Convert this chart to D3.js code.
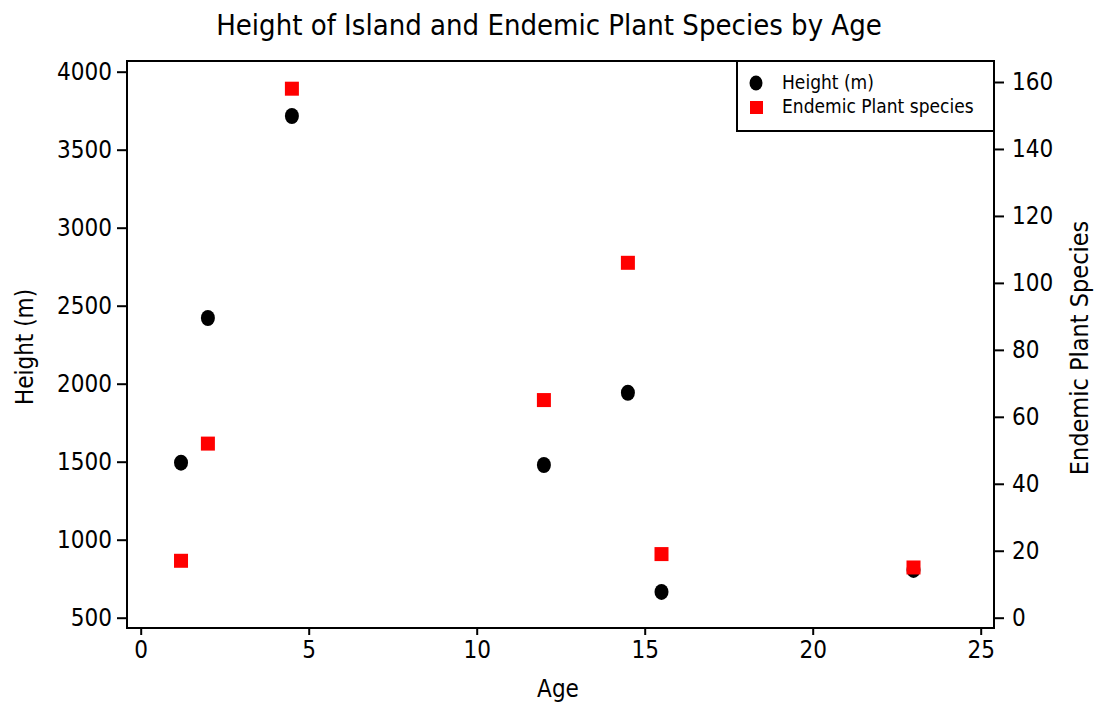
<!DOCTYPE html>
<html lang="en">
<head>
    <meta charset="UTF-8">
    <title>Height of Island and Endemic Plant Species by Age</title>
    <style>
        body { margin: 0; background: white; }
        text { font-family: "DejaVu Sans Condensed", "DejaVu Sans", sans-serif; fill: #000; }
    </style>
</head>
<body>
    <script src="https://d3js.org/d3.v7.min.js"></script>
    <script>
        // data
        let ages = [1.2, 2.0, 4.5, 12.0, 14.5, 15.5, 23.0];
        let heights = [1494, 2421, 3716, 1479, 1942, 665, 806];
        let species = [17, 52, 158, 65, 106, 19, 15];
        let xTicks = [0, 5, 10, 15, 20, 25];
        let leftTicks = [500, 1000, 1500, 2000, 2500, 3000, 3500, 4000];
        let rightTicks = [0, 20, 40, 60, 80, 100, 120, 140, 160];

        let width = 1097, height = 704;
        let plotLeft = 127, plotRight = 994, plotTop = 61, plotBottom = 628;

        let svg = d3.select('body')
            .append('svg')
            .attr('width', width)
            .attr('height', height);

        let x = d3.scaleLinear().domain([0, 25]).range([140.7, 980.7]);
        let yL = d3.scaleLinear().domain([500, 4000]).range([617.7, 71.7]);
        let yR = d3.scaleLinear().domain([0, 160]).range([617.7, 82]);

        // frame
        svg.append('rect')
            .attr('x', plotLeft).attr('y', plotTop)
            .attr('width', plotRight - plotLeft).attr('height', plotBottom - plotTop)
            .attr('fill', 'none').attr('stroke', '#000').attr('stroke-width', 2);

        function styleAxis(g) {
            g.attr('font-family', null).attr('font-size', null);
            g.select('.domain').remove();
            g.selectAll('.tick line').attr('stroke', '#000').attr('stroke-width', 2);
            g.selectAll('.tick text').style('font-size', '24px');
        }

        svg.append('g')
            .attr('transform', `translate(0,${plotBottom})`)
            .call(d3.axisBottom(x).tickValues(xTicks).tickSize(7).tickPadding(6).tickFormat(d3.format('d')))
            .call(styleAxis);

        svg.append('g')
            .attr('transform', `translate(${plotLeft},0)`)
            .call(d3.axisLeft(yL).tickValues(leftTicks).tickSize(10).tickPadding(5).tickFormat(d3.format('d')))
            .call(styleAxis);

        svg.append('g')
            .attr('transform', `translate(${plotRight},0)`)
            .call(d3.axisRight(yR).tickValues(rightTicks).tickSize(10).tickPadding(8).tickFormat(d3.format('d')))
            .call(styleAxis);

        // points
        svg.append('g').selectAll('ellipse')
            .data(ages)
            .join('ellipse')
            .attr('cx', d => x(d))
            .attr('cy', (d, i) => yL(heights[i]))
            .attr('rx', 7).attr('ry', 8)
            .attr('fill', '#000');

        svg.append('g').selectAll('rect')
            .data(ages)
            .join('rect')
            .attr('x', d => x(d) - 7)
            .attr('y', (d, i) => yR(species[i]) - 7)
            .attr('width', 14).attr('height', 14)
            .attr('fill', '#ff0000');

        // titles
        svg.append('text')
            .attr('x', 549).attr('y', 35)
            .attr('text-anchor', 'middle')
            .style('font-size', '29px')
            .text('Height of Island and Endemic Plant Species by Age');

        svg.append('text')
            .attr('x', 558).attr('y', 697)
            .attr('text-anchor', 'middle')
            .style('font-size', '24px')
            .text('Age');

        svg.append('text')
            .attr('transform', 'translate(33,347) rotate(-90)')
            .attr('text-anchor', 'middle')
            .style('font-size', '24px')
            .text('Height (m)');

        svg.append('text')
            .attr('transform', 'translate(1088,348) rotate(-90)')
            .attr('text-anchor', 'middle')
            .style('font-size', '25px')
            .text('Endemic Plant Species');

        // legend
        let lg = svg.append('g');
        lg.append('rect')
            .attr('x', 737).attr('y', plotTop)
            .attr('width', plotRight - 737).attr('height', 70)
            .attr('fill', '#fff').attr('stroke', '#000').attr('stroke-width', 2);
        lg.append('ellipse')
            .attr('cx', 756).attr('cy', 83).attr('rx', 6.5).attr('ry', 7.5).attr('fill', '#000');
        lg.append('rect')
            .attr('x', 750).attr('y', 101).attr('width', 13).attr('height', 13).attr('fill', '#ff0000');
        lg.append('text').attr('x', 782).attr('y', 89).style('font-size', '19px').text('Height (m)');
        lg.append('text').attr('x', 782).attr('y', 113).style('font-size', '19px').text('Endemic Plant species');
    </script>
</body>
</html>
